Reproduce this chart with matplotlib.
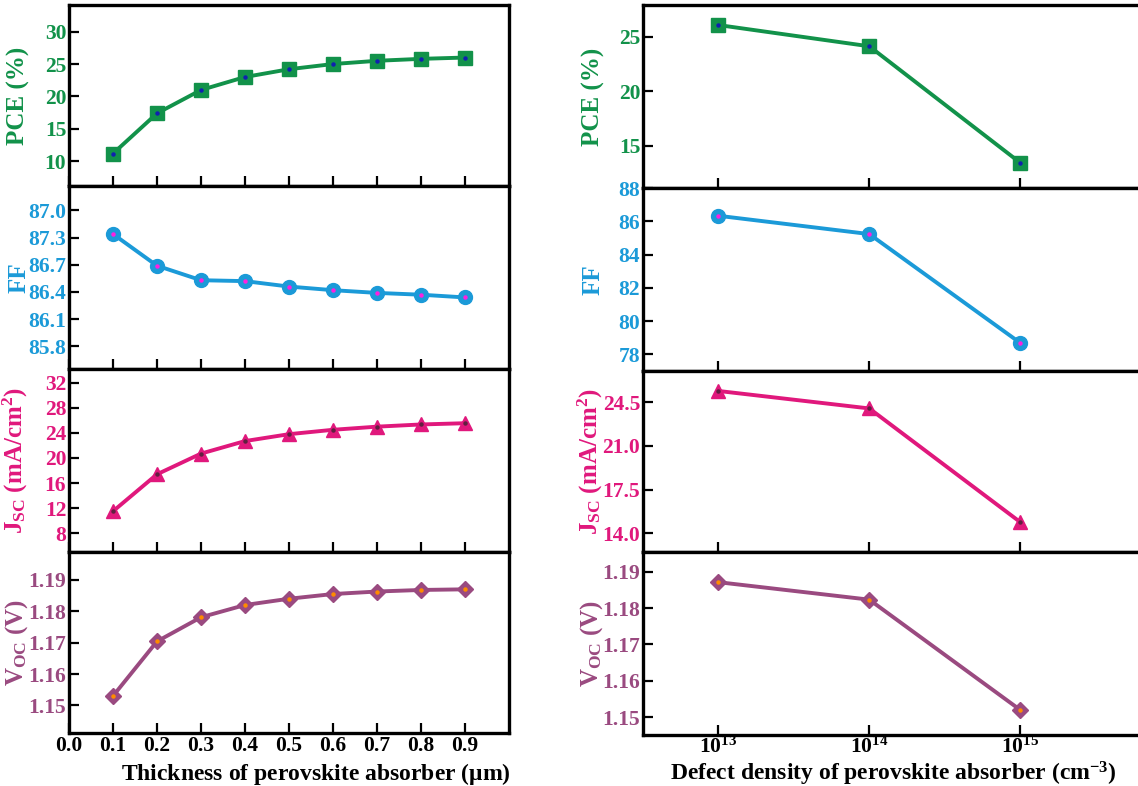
import matplotlib.pyplot as plt

plt.rcParams["font.family"] = ["Liberation Serif", "DejaVu Serif"]
plt.rcParams["font.weight"] = "bold"
plt.rcParams["mathtext.fontset"] = "custom"
plt.rcParams["mathtext.rm"] = "Liberation Serif:bold"
plt.rcParams["mathtext.it"] = "Liberation Serif:bold"
plt.rcParams["mathtext.bf"] = "Liberation Serif:bold"
plt.rcParams["mathtext.default"] = "rm"

# left column: thickness sweep
thickness = [0.1, 0.2, 0.3, 0.4, 0.5, 0.6, 0.7, 0.8, 0.9]
pce_t = [11.2, 17.4, 21.0, 23.0, 24.2, 25.0, 25.5, 25.8, 26.0]
ff_t = [87.04, 86.69, 86.53, 86.52, 86.46, 86.42, 86.39, 86.37, 86.34]
jsc_t = [11.5, 17.4, 20.7, 22.7, 23.8, 24.5, 25.0, 25.35, 25.55]
voc_t = [1.1530, 1.1704, 1.1781, 1.1820, 1.1840, 1.1855, 1.1863, 1.1868, 1.1870]

# right column: defect density sweep
defect = [1e13, 1e14, 1e15]
pce_d = [26.06, 24.11, 13.42]
ff_d = [86.33, 85.23, 78.69]
jsc_d = [25.4, 24.0, 14.9]
voc_d = [1.1871, 1.1823, 1.1520]

# y ticks (FF labels copied as printed in the original figure)
pce_ticks_t = [10, 15, 20, 25, 30]
ff_ticks_t = [85.8, 86.1, 86.4, 86.7, 87.0, 87.3]
ff_labels_t = ["85.8", "86.1", "86.4", "86.7", "87.3", "87.0"]
jsc_ticks_t = [8, 12, 16, 20, 24, 28, 32]
voc_ticks = [1.15, 1.16, 1.17, 1.18, 1.19]
pce_ticks_d = [15, 20, 25]
ff_ticks_d = [78, 80, 82, 84, 86, 88]
jsc_ticks_d = [14.0, 17.5, 21.0, 24.5]

GREEN = "#12924a"
BLUE = "#1b9ad8"
PINK = "#e0187c"
PURPLE = "#9a4a80"

rows = [
    # (color, marker, inner dot color, ylabel)
    (GREEN, "s", "#1020b0", "PCE (%)"),
    (BLUE, "o", "#ff20e0", "FF"),
    (PINK, "^", "#602040", r"J$_{\mathregular{SC}}$ (mA/cm$^{2}$)"),
    (PURPLE, "D", "#ff8c00", r"V$_{\mathregular{OC}}$ (V)"),
]


def style_axes(ax, color, ticks, labels, ylim):
    for sp in ax.spines.values():
        sp.set_linewidth(2.4)
    ax.tick_params(axis="both", direction="in", length=7, width=1.6,
                   labelsize=15.5, pad=2)
    ax.tick_params(axis="y", colors="black", labelcolor=color)
    ax.set_yticks(ticks)
    if labels is not None:
        ax.set_yticklabels(labels)
    ax.set_ylim(*ylim)
    ax.minorticks_off()


def draw(ax, x, y, color, marker, inner):
    ms = 10 if marker != "D" else 8.5
    ax.plot(x, y, color=color, lw=2.8, marker=marker, markersize=ms,
            markerfacecolor=color, markeredgecolor=color, zorder=3)
    ax.plot(x, y, ls="none", marker="o", markersize=2.2,
            color=inner, zorder=4)


fig = plt.figure(figsize=(11.38, 7.86), dpi=100)
H = 786.0
W = 1138.0

left_bounds = [5, 186, 369, 552, 733]
right_bounds = [5, 188, 371, 552, 735]

left_data = [pce_t, ff_t, jsc_t, voc_t]
left_ticks = [(pce_ticks_t, None), (ff_ticks_t, ff_labels_t),
              (jsc_ticks_t, None), (voc_ticks, None)]
left_ylims = [(6.2, 34.1), (85.55, 87.57), (5.0, 34.2), (1.1412, 1.1989)]

right_data = [pce_d, ff_d, jsc_d, voc_d]
right_ticks = [pce_ticks_d, ff_ticks_d, jsc_ticks_d, voc_ticks]
right_ylims = [(11.1, 27.9), (77.0, 88.0), (12.5, 27.0), (1.1451, 1.1954)]

for i, (color, marker, inner, ylabel) in enumerate(rows):
    # left column
    top, bot = left_bounds[i], left_bounds[i + 1]
    ax = fig.add_axes([69 / W, 1 - bot / H, (509 - 69) / W, (bot - top) / H])
    draw(ax, thickness, left_data[i], color, marker, inner)
    tk, lb = left_ticks[i]
    style_axes(ax, color, tk, lb, left_ylims[i])
    ax.set_xlim(0.0, 1.0)
    ax.set_xticks([0.0, 0.1, 0.2, 0.3, 0.4, 0.5, 0.6, 0.7, 0.8, 0.9])
    ax.set_ylabel(ylabel, color=color, fontsize=18, fontweight="bold")
    ax.yaxis.set_label_coords(-0.088, 0.5)
    if i < 3:
        ax.set_xticklabels([])
    else:
        ax.set_xlabel(r"Thickness of perovskite absorber ($\mathregular{\mu}$m)",
                      fontsize=17, fontweight="bold")
        ax.xaxis.set_label_coords(0.56, -0.155)

    # right column
    top, bot = right_bounds[i], right_bounds[i + 1]
    ax = fig.add_axes([643 / W, 1 - bot / H, (1165 - 643) / W, (bot - top) / H])
    ax.set_xscale("log")
    draw(ax, defect, right_data[i], color, marker, inner)
    style_axes(ax, color, right_ticks[i], None, right_ylims[i])
    ax.set_xlim(10 ** 12.5, 10 ** 15.96)
    ax.set_xticks(defect)
    ax.minorticks_off()
    ax.set_ylabel(ylabel, color=color, fontsize=18, fontweight="bold")
    ax.yaxis.set_label_coords(-0.073, 0.5)
    if i < 3:
        ax.set_xticklabels([])
    else:
        ax.set_xticklabels([r"10$^{13}$", r"10$^{14}$", r"10$^{15}$"])
        ax.tick_params(axis="x", pad=1)
        ax.set_xlabel(r"Defect density of perovskite absorber (cm$^{-3}$)",
                      fontsize=17, fontweight="bold")
        ax.xaxis.set_label_coords(0.48, -0.135)

fig.savefig("out.png", dpi=100)
